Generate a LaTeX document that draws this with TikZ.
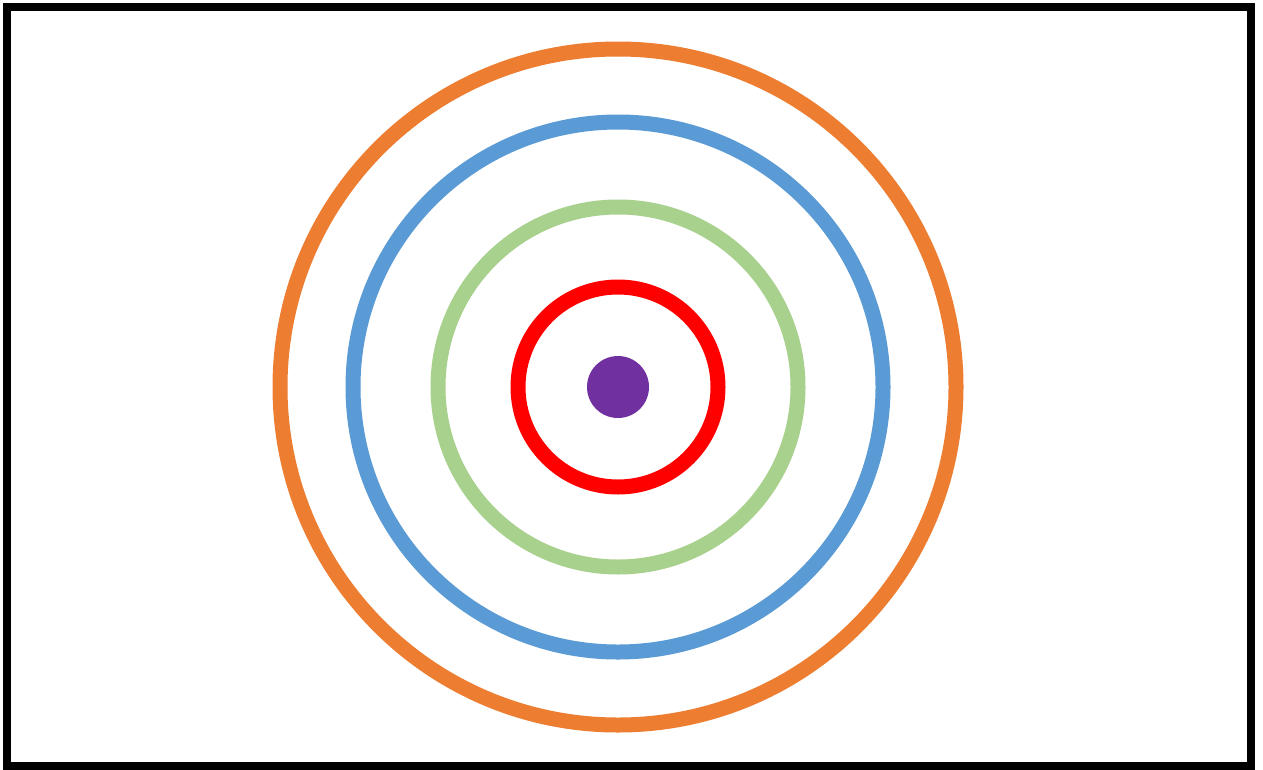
\documentclass[tikz,border=0pt]{standalone}
\definecolor{ringorange}{HTML}{ED7D31}
\definecolor{ringblue}{HTML}{5B9BD5}
\definecolor{ringgreen}{HTML}{A9D18E}
\definecolor{ringred}{HTML}{FF0000}
\definecolor{dotpurple}{HTML}{7030A0}
\begin{document}
\begin{tikzpicture}[x=1pt,y=-1pt,
  ring/.style={line width=15pt}]
\useasboundingbox (0,0) rectangle (1263,769);
\fill[white] (0,0) rectangle (1263,769);
\draw[line width=8pt] (7,7) rectangle (1251,766);
\coordinate (c) at (618,387);
\draw[ring,ringorange] (c) circle[radius=338];
\draw[ring,ringblue] (c) circle[radius=265];
\draw[ring,ringgreen] (c) circle[radius=180];
\draw[ring,ringred] (c) circle[radius=100];
\fill[dotpurple] (c) circle[radius=31];
\end{tikzpicture}
\end{document}
